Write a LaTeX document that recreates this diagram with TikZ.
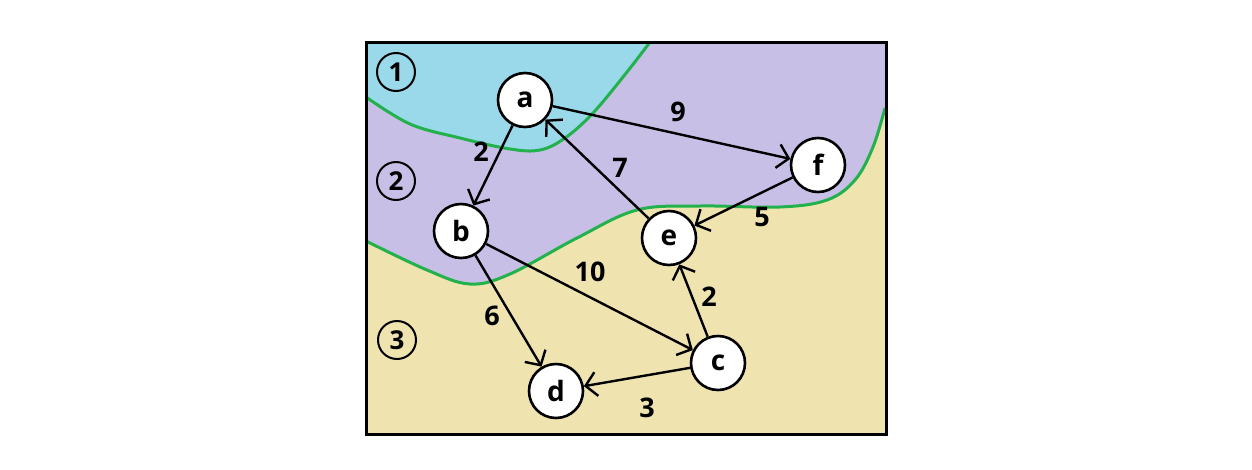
\documentclass[tikz,border=0pt]{standalone}
\usepackage{fontspec}
\setmainfont{Open Sans}
\usetikzlibrary{arrows.meta}
\definecolor{regA}{HTML}{99D9EA}
\definecolor{regB}{HTML}{C8BFE7}
\definecolor{regC}{HTML}{EFE4B0}
\definecolor{bound}{HTML}{22B14C}
\tikzset{
  vtx/.style={circle,draw=black,fill=white,line width=2.6pt,minimum size=54pt,inner sep=0pt,font=\fontsize{28}{30}\selectfont\bfseries},
  reg/.style={circle,draw=black,line width=2pt,minimum size=38pt,inner sep=0pt,font=\fontsize{26}{28}\selectfont\bfseries},
  wt/.style={font=\fontsize{27}{29}\selectfont\bfseries,inner sep=0pt},
  arc/.style={line width=2.4pt,-{Straight Barb[length=11pt,width=24pt,line width=2.4pt]}},
  bline/.style={bound,line width=3pt}
}
\def\lowcurve{(366,241) (427,270) (470,284) (510,274) (577,238) (637,210) (700,206) (780,207) (827,200) (855,180) (873,147) (885,108)}
\def\topcurve{(366,97) (410,124) (460,138) (510,149) (540,150) (565,138) (593,113) (627,72) (650,42)}
\begin{document}
\begin{tikzpicture}[x=1pt,y=-1pt]
\useasboundingbox (0,0) rectangle (1252,469);
% regions
\fill[regC] (366,42) rectangle (886,434);
\fill[regB] (366,241) plot[smooth,tension=0.6] coordinates {\lowcurve} -- (885,42) -- (366,42) -- cycle;
\fill[regA] (366,97) plot[smooth,tension=0.6] coordinates {\topcurve} -- (366,42) -- cycle;
\draw[bline] plot[smooth,tension=0.6] coordinates {\lowcurve};
\draw[bline] plot[smooth,tension=0.6] coordinates {\topcurve};
\draw[line width=3pt] (366,42) rectangle (886,434);
% region labels
\node[reg] (r1) at (396,72) {1};
\node[reg] (r2) at (396,181) {2};
\node[reg] (r3) at (397,340) {3};
% vertices
\node[vtx] (a) at (525,100) {a};
\node[vtx] (b) at (461,231) {b};
\node[vtx] (c) at (718,363) {c};
\node[vtx] (d) at (556,391) {d};
\node[vtx] (e) at (669,238) {e};
\node[vtx] (f) at (818,165) {f};
% edges
\draw[arc] (a) -- (b);
\draw[arc] (a) -- (f);
\draw[arc] (e) -- (a);
\draw[arc] (f) -- (e);
\draw[arc] (b) -- (c);
\draw[arc] (b) -- (d);
\draw[arc] (c) -- (e);
\draw[arc] (c) -- (d);
% weights
\node[wt] (w1) at (481,152) {2};
\node[wt] (w2) at (678,112) {9};
\node[wt] (w3) at (620,168) {7};
\node[wt] (w4) at (762,217) {5};
\node[wt] (w5) at (590,272) {10};
\node[wt] (w6) at (492,316) {6};
\node[wt] (w7) at (709,297) {2};
\node[wt] (w8) at (647,408) {3};
\end{tikzpicture}
\end{document}
